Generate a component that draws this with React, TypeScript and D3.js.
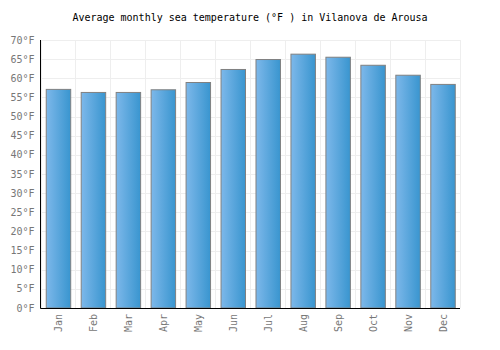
import React from 'react'
import * as d3 from 'd3'

const months = ['Jan', 'Feb', 'Mar', 'Apr', 'May', 'Jun', 'Jul', 'Aug', 'Sep', 'Oct', 'Nov', 'Dec']
const seaTemp = [57.1, 56.3, 56.3, 57.0, 58.9, 62.3, 64.9, 66.3, 65.5, 63.4, 60.8, 58.4]
const yTicks = [0, 5, 10, 15, 20, 25, 30, 35, 40, 45, 50, 55, 60, 65, 70]

export default function App() {
  const width = 500
  const height = 350
  const margin = { top: 40, right: 40, bottom: 42, left: 40.5 }

  const x = d3.scaleBand<string>()
    .domain(months)
    .range([margin.left, width - margin.right])
    .paddingInner(0.3)
    .paddingOuter(0.15)

  const y = d3.scaleLinear()
    .domain([0, 70])
    .range([height - margin.bottom, margin.top])

  const colEdges = months.map((m, i) => margin.left + i * (width - margin.right - margin.left) / months.length)

  return (
    <svg width={width} height={height} style={{ position: 'absolute', left: 0, top: 0, background: '#fff' }}
      fontFamily="'DejaVu Sans Mono', monospace">
      <defs>
        <linearGradient id="barGrad" x1="0" x2="1" y1="0" y2="0">
          <stop offset="0%" stopColor="#7db8ea" />
          <stop offset="100%" stopColor="#3995cf" />
        </linearGradient>
      </defs>

      <text x={width / 2} y={21} textAnchor="middle" fontSize={10} fill="#000">
        Average monthly sea temperature (°F ) in Vilanova de Arousa
      </text>

      {/* grid */}
      {yTicks.map(t => (
        <line key={'h' + t} x1={margin.left} x2={width - margin.right} y1={Math.round(y(t)) + 0.5} y2={Math.round(y(t)) + 0.5}
          stroke="#eee" strokeWidth={1} />
      ))}
      {colEdges.concat([width - margin.right]).map((gx, i) => (
        <line key={'v' + i} x1={Math.round(gx) + 0.5} x2={Math.round(gx) + 0.5} y1={margin.top} y2={height - margin.bottom}
          stroke="#eee" strokeWidth={1} />
      ))}

      {/* bars */}
      {months.map((m, i) => (
        <rect key={m}
          x={(x(m) ?? 0) + 0.5}
          y={y(seaTemp[i])}
          width={x.bandwidth()}
          height={y(0) - y(seaTemp[i])}
          fill="url(#barGrad)"
          stroke="#808080"
          strokeWidth={1} />
      ))}

      {/* axes */}
      <line x1={margin.left} x2={margin.left} y1={margin.top} y2={height - margin.bottom + 0.5} stroke="#000" />
      <line x1={margin.left} x2={width - margin.right} y1={height - margin.bottom + 0.5} y2={height - margin.bottom + 0.5} stroke="#000" />

      {yTicks.map(t => (
        <text key={'yl' + t} x={margin.left - 6} y={y(t)} dy="0.35em" textAnchor="end" fontSize={10} fill="#777">
          {t}°F
        </text>
      ))}

      {months.map(m => {
        const cx = (x(m) ?? 0) + x.bandwidth() / 2 + 0.5
        const ty = height - margin.bottom + 6
        return (
          <text key={'xl' + m} transform={`translate(${cx},${ty}) rotate(-90)`} textAnchor="end" dy="0.35em"
            fontSize={10} fill="#777">
            {m}
          </text>
        )
      })}
    </svg>
  )
}
